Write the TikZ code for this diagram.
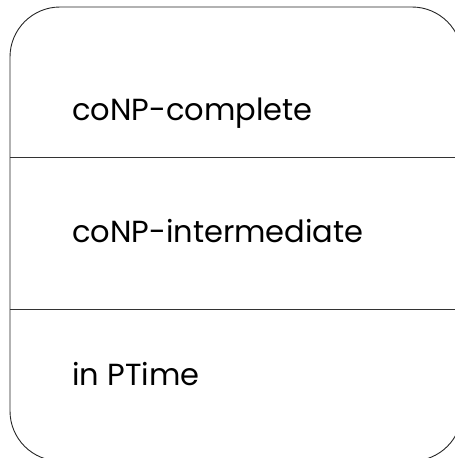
\documentclass[tikz,border=0pt]{standalone}
\usepackage{fontspec}
\setmainfont{Poppins}
\begin{document}
\begin{tikzpicture}[x=1pt,y=-1pt,
  frame/.style={draw=black!85, line width=0.9pt, rounded corners=50pt},
  sep/.style={draw=black!80, line width=0.9pt},
  lbl/.style={anchor=base west, inner sep=0pt, font=\fontsize{30.5}{34}\selectfont}]
\useasboundingbox (0,0) rectangle (455,458);
\begin{scope}
\clip (0,0) rectangle (455,458);
\draw[frame] (10,7) rectangle (462,461);
\coordinate (l1) at (10,157); \coordinate (r1) at (462,157);
\coordinate (l2) at (10,309); \coordinate (r2) at (462,309);
\draw[sep] (l1) -- (r1);
\draw[sep] (l2) -- (r2);
\end{scope}
\node[lbl] (a) at (72,120) {coNP-complete};
\node[lbl] (b) at (72,242) {coNP-intermediate};
\node[lbl] (c) at (72,385) {in PTime};
\end{tikzpicture}
\end{document}
